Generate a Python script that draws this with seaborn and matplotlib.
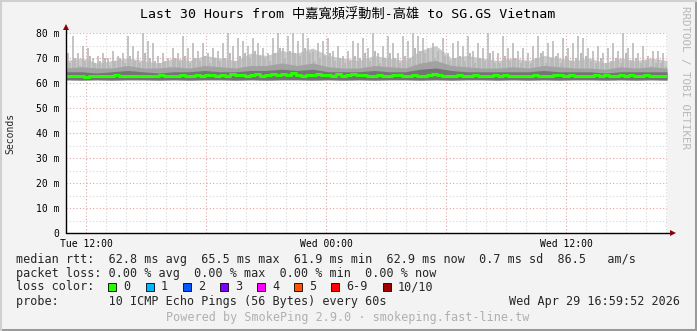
import numpy as np
import pandas as pd
import matplotlib
matplotlib.use("Agg")
import matplotlib.pyplot as plt
from matplotlib.lines import Line2D
from matplotlib.patches import Rectangle
import seaborn as sns

sns.set_theme(style="white")
plt.rcParams['font.family'] = ['DejaVu Sans Mono', 'Noto Sans CJK TC']

# ---------------- data ----------------
title = "Last 30 Hours from 中嘉寬頻浮動制-高雄 to SG.GS Vietnam"
x_tick_hours = [1, 13, 25]
x_tick_labels = ["Tue 12:00", "Wed 00:00", "Wed 12:00"]
y_ticks = [0, 10, 20, 30, 40, 50, 60, 70, 80]
y_tick_labels = ["0", "10 m", "20 m", "30 m", "40 m", "50 m", "60 m", "70 m", "80 m"]

# max ping per ~15 min (ms)
max_rtt = [72, 79, 72, 75, 74, 70, 71, 72, 70, 73, 71, 72, 79, 75, 73, 80, 77, 76,
           71, 72, 70, 74, 72, 79, 74, 76, 73, 76, 72, 74, 73, 76, 80, 75, 78,
           77, 75, 78, 76, 74, 72, 78, 80, 74, 79, 80, 77, 80, 78, 73, 76, 77,
           78, 73, 75, 71, 73, 77, 76, 78, 74, 80, 72, 75, 79, 76, 72, 79, 77,
           80, 79, 78, 74, 76, 73, 78, 72, 76, 77, 75, 79, 73, 76, 74, 80, 73,
           72, 79, 74, 76, 73, 74, 72, 75, 79, 73, 76, 77, 72, 78, 74, 76, 79,
           78, 74, 73, 75, 72, 74, 76, 73, 80, 74, 76, 72, 75, 71, 73, 73, 72]

# 9th ping per ~15 min (ms)
p90_rtt = [68, 70, 67, 69, 71, 68, 69, 70, 67, 69, 70, 68, 71, 69, 68, 72, 70, 69,
           68, 69, 67, 70, 69, 71, 68, 70, 69, 71, 68, 70, 69, 70, 72, 69, 71,
           72, 70, 73, 71, 70, 69, 72, 74, 70, 73, 72, 71, 74, 72, 69, 70, 71,
           72, 69, 70, 68, 69, 71, 70, 72, 69, 73, 68, 70, 72, 70, 68, 71, 70,
           74, 73, 72, 69, 70, 68, 71, 69, 70, 71, 69, 72, 68, 70, 69, 72, 68,
           68, 71, 69, 70, 68, 69, 68, 70, 72, 68, 70, 71, 68, 71, 69, 70, 72,
           71, 69, 68, 70, 68, 69, 70, 68, 72, 69, 70, 68, 69, 67, 68, 68, 67]

# upper edges of the smoke bands (every 45 min)
band_hi = [69, 70, 68, 69, 70, 69, 68, 70, 69, 71, 70, 69, 72, 71, 73, 72, 74, 71,
           70, 69, 71, 70, 69, 73, 75, 70, 71, 70, 69, 70, 69, 71, 70, 69, 70, 68,
           70, 69, 70, 69]
band_mid = [66, 66.5, 66, 66, 67, 66, 66, 66.5, 66, 67, 66.5, 66, 67, 67, 68, 67,
            68, 66.5, 66, 66, 67, 66.5, 66, 68, 69, 67, 66.5, 66, 66, 66.5, 66, 67,
            66.5, 66, 66, 65.5, 66.5, 66, 66.5, 66]
band_dark = [64.5, 64.5, 64, 64.5, 65, 64.5, 64, 64.5, 64.5, 65, 64.5, 64.5, 65,
             65, 65.5, 65, 65.5, 64.5, 64.5, 64.5, 65, 64.5, 64.5, 65.5, 66, 65,
             64.5, 64.5, 64.5, 64.5, 64.5, 65, 64.5, 64.5, 64.5, 64, 64.5, 64.5,
             64.5, 64.5]
band_low = [61.3, 61.2, 61.3, 61.2, 61.3, 61.3, 61.2, 61.3, 61.2, 61.3, 61.3, 61.2,
            61.3, 61.2, 61.3, 61.3, 61.2, 61.3, 61.2, 61.3, 61.2, 61.3, 61.3, 61.2,
            61.3, 61.2, 61.3, 61.3, 61.2, 61.3, 61.2, 61.3, 61.2, 61.3, 61.3, 61.2,
            61.3, 61.2, 61.3, 61.2]

# median rtt per ~15 min (ms)
median_rtt = [62.8, 62.7, 62.9, 62.8, 62.6, 62.9, 63.0, 62.8, 62.7, 62.9, 63.1, 62.8, 62.9, 63.0, 62.8, 62.9, 62.7, 63.0,
              62.9, 63.1, 62.8, 63.0, 62.9, 63.2, 62.8, 63.0, 63.3, 62.9, 63.1, 63.4, 62.9, 63.2, 63.0, 63.5, 63.1,
              63.2, 62.9, 63.3, 63.6, 63.0, 63.4, 63.8, 63.2, 63.5, 63.1, 63.9, 63.3, 63.0, 63.4, 63.2, 63.6, 63.1,
              63.3, 62.9, 63.5, 63.0, 63.2, 63.8, 63.4, 63.1, 63.0, 62.9, 63.2, 63.0, 62.8, 63.3, 63.1, 62.9, 63.0,
              63.4, 63.0, 62.9, 63.2, 63.5, 63.1, 62.9, 63.0, 62.8, 63.1, 63.0, 62.9, 63.2, 62.8, 63.0, 62.9, 63.1,
              62.9, 63.1, 62.8, 63.0, 62.9, 62.8, 63.0, 63.1, 62.9, 62.8, 63.0, 63.2, 63.4, 62.9, 63.1, 62.9, 62.8,
              63.0, 62.8, 63.1, 62.9, 63.2, 62.9, 63.0, 63.3, 62.8, 63.1, 63.0, 62.9, 63.2, 62.8, 63.0, 62.9, 62.8]

loss_labels = ["0", "1", "2", "3", "4", "5", "6-9", "10/10"]
loss_colors = ["#26ff00", "#00b8ff", "#0059ff", "#7e00ff", "#ff00ff", "#ff5500", "#ff0000", "#a10000"]

legend_median = "median rtt:  62.8 ms avg  65.5 ms max  61.9 ms min  62.9 ms now  0.7 ms sd  86.5   am/s"
legend_loss = "packet loss: 0.00 % avg  0.00 % max  0.00 % min  0.00 % now"
legend_probe = "probe:       10 ICMP Echo Pings (56 Bytes) every 60s"
timestamp = "Wed Apr 29 16:59:52 2026"
footer = "Powered by SmokePing 2.9.0 · smokeping.fast-line.tw"
watermark = "RRDTOOL / TOBI OETIKER"

SPAN = 30.05  # hours shown

# ---------------- figure ----------------
W, H = 697, 331
fig = plt.figure(figsize=(W / 100, H / 100), dpi=100)
fig.patch.set_facecolor("#f3f3f3")
ax = fig.add_axes([66 / W, 98 / H, 601 / W, 200 / H])
ax.set_facecolor("white")

def px(x, y):
    return x / W, 1 - y / H

def fill_band(lower, upper, color):
    xs = np.linspace(0, SPAN, len(upper))
    ax.fill_between(xs, lower, upper, color=color, lw=0, zorder=2)

step = SPAN / len(max_rtt)
fill_band(band_low, band_hi, "#cacaca")
xm = np.linspace(0, SPAN, len(max_rtt), endpoint=False) + step * 0.3
ax.vlines(xm, 61.5, max_rtt, color="#b4b4b4", lw=1.1, zorder=2)
xp = np.linspace(0, SPAN, len(p90_rtt), endpoint=False) + step * 0.75
ax.vlines(xp, 61.5, p90_rtt, color="#bababa", lw=1.4, zorder=2)
fill_band(band_low, band_mid, "#a2a2a2")
fill_band(band_low, band_dark, "#747474")

med_df = pd.DataFrame({"hour": np.linspace(0, SPAN, len(median_rtt)), "rtt": median_rtt})
sns.lineplot(data=med_df, x="hour", y="rtt", ax=ax, color="#26ff00", lw=2.2,
             drawstyle="steps-mid", zorder=4)

# grid
for h in range(1, 31):
    major = (h - 1) % 6 == 0
    ax.axvline(h, color="#e3a3a3" if major else "#d6d6d6", lw=0.8,
               ls=(0, (1, 2)), zorder=1)
for v in range(5, 81, 5):
    major = v % 10 == 0
    ax.axhline(v, color="#e3a3a3" if major else "#d6d6d6", lw=0.8,
               ls=(0, (1, 2)), zorder=1)

ax.set_xlim(0, SPAN)
ax.set_ylim(0, 80)
ax.set_xticks(x_tick_hours)
ax.set_xticklabels(x_tick_labels)
ax.set_yticks(y_ticks)
ax.set_yticklabels(y_tick_labels)
ax.tick_params(axis="both", labelsize=7, length=3, width=0.8, color="black",
               direction="out", pad=2, labelcolor="black")
ax.tick_params(axis="x", pad=1)
for s in ["top", "right", "left", "bottom"]:
    ax.spines[s].set_visible(False)
ax.plot([0, 0], [0, 82.2], color="black", lw=1, clip_on=False, zorder=5)
ax.plot([0, SPAN + 0.15], [0, 0], color="black", lw=1, clip_on=False, zorder=5)
ax.plot([0], [82.6], marker="^", ms=4.5, color="#8b0000", clip_on=False, zorder=6, mew=0)
ax.plot([SPAN + 0.3], [0], marker=">", ms=4.5, color="#8b0000", clip_on=False, zorder=6, mew=0)
ax.set_xlabel("")
ax.set_ylabel("")

# texts
fig.text(*px(348, 15), title, ha="center", va="center", fontsize=9.5, color="#000000")
fig.text(*px(10, 133), "Seconds", rotation=90, ha="center", va="center", fontsize=7)
fig.text(*px(685, 6), watermark, rotation=270, ha="center", va="top", fontsize=7.8, color="#b8b8b8")

fs = 8.5
fig.text(*px(16, 259), legend_median, ha="left", va="center", fontsize=fs)
fig.text(*px(16, 273), legend_loss, ha="left", va="center", fontsize=fs)
fig.text(*px(16, 287), "loss color:", ha="left", va="center", fontsize=fs)
bx = 108.3
for lab, col in zip(loss_labels, loss_colors):
    fig.add_artist(Rectangle(px(bx, 291), 8 / W, 8 / H, facecolor=col, edgecolor="black", lw=0.6))
    fig.text(*px(bx + 15, 287), lab, ha="left", va="center", fontsize=fs)
    bx += 37.2 + 7.1 * (len(lab) - 1)
fig.text(*px(16, 301), legend_probe, ha="left", va="center", fontsize=fs)
fig.text(*px(680, 301), timestamp, ha="right", va="center", fontsize=fs)
fig.text(*px(348, 318), footer, ha="center", va="center", fontsize=fs, color="#b0b0b0")

# outer bevel border
fig.add_artist(Line2D([0, 1], [1.5 / H, 1.5 / H], color="#9a9a9a", lw=2.2))
fig.add_artist(Line2D([1 - 1.5 / W, 1 - 1.5 / W], [0, 1], color="#9a9a9a", lw=2.2))
fig.add_artist(Line2D([0, 1], [1 - 1 / H, 1 - 1 / H], color="#d0d0d0", lw=1.5))
fig.add_artist(Line2D([1 / W, 1 / W], [0, 1], color="#d0d0d0", lw=1.5))

fig.savefig("out.png", dpi=100, facecolor=fig.get_facecolor())
